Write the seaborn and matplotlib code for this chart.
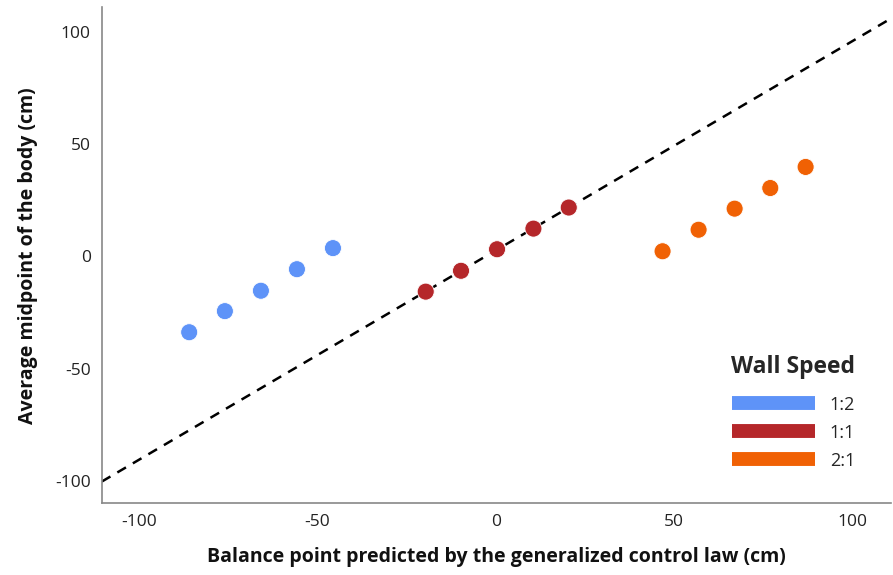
import numpy as np
import pandas as pd
import matplotlib
matplotlib.use("Agg")
import matplotlib.pyplot as plt
import seaborn as sns
from matplotlib.lines import Line2D

# Data
speeds = ["1:2", "1:1", "2:1"]
x_12 = [-86.0, -76.0, -65.9, -55.8, -45.7]
y_12 = [-33.8, -24.4, -15.3, -5.7, 3.7]
x_11 = [-19.7, -9.8, 0.3, 10.5, 20.4]
y_11 = [-15.7, -6.4, 3.2, 12.4, 21.8]
x_21 = [46.7, 56.8, 66.9, 76.9, 86.8]
y_21 = [2.3, 11.9, 21.3, 30.5, 39.9]
colors = ["#5E93F8", "#B5272A", "#F06104"]
ticks = [-100, -50, 0, 50, 100]

df = pd.DataFrame({
    "x": x_12 + x_11 + x_21,
    "y": y_12 + y_11 + y_21,
    "speed": [speeds[0]] * len(x_12) + [speeds[1]] * len(x_11) + [speeds[2]] * len(x_21),
})

sns.set_theme(style="white")
plt.rcParams["font.family"] = ["Open Sans", "DejaVu Sans"]
plt.rcParams["axes.unicode_minus"] = False

fig = plt.figure(figsize=(8.93, 5.75), dpi=100)
ax = fig.add_axes([0.114, 0.125, 0.884, 0.862])

xlim = (-110.5, 110.8)
ylim = (-110, 111)

# Reference line: linear fit through the 1:1 condition
slope, intercept = np.polyfit(x_11, y_11, 1)
line_x = np.array(xlim)
line_df = pd.DataFrame({"x": line_x, "y": slope * line_x + intercept})
sns.lineplot(data=line_df, x="x", y="y", ax=ax, color="black", lw=1.8,
             dashes=False, linestyle=(0, (4, 3.2)), zorder=1)

sns.scatterplot(data=df, x="x", y="y", hue="speed", hue_order=speeds,
                palette=colors, s=150, edgecolor="white", linewidth=0.6,
                ax=ax, legend=False, zorder=3)

ax.set_xlim(*xlim)
ax.set_ylim(*ylim)
ax.set_xticks(ticks)
ax.set_yticks(ticks)
ax.tick_params(axis="both", length=0, labelsize=12.5, colors="#222222", pad=8)
for side in ["top", "right"]:
    ax.spines[side].set_visible(False)
for side in ["left", "bottom"]:
    ax.spines[side].set_color("#888888")
    ax.spines[side].set_linewidth(1.2)

ax.set_xlabel("Balance point predicted by the generalized control law (cm)",
              fontsize=14, fontweight="bold", labelpad=12, color="#111111")
ax.set_ylabel("Average midpoint of the body (cm)",
              fontsize=14, fontweight="bold", labelpad=12, color="#111111")

handles = [Line2D([0], [0], color=c, lw=10, solid_capstyle="butt") for c in colors]
leg = ax.legend(handles, speeds, title="Wall Speed", loc="lower right",
                bbox_to_anchor=(0.975, 0.035), frameon=False, fontsize=13,
                title_fontsize=16.5, handlelength=4.6, handletextpad=0.8,
                labelspacing=0.55, alignment="right")
leg.get_title().set_fontweight("bold")
leg._legend_box.sep = 12

fig.savefig("out.png", dpi=100)
